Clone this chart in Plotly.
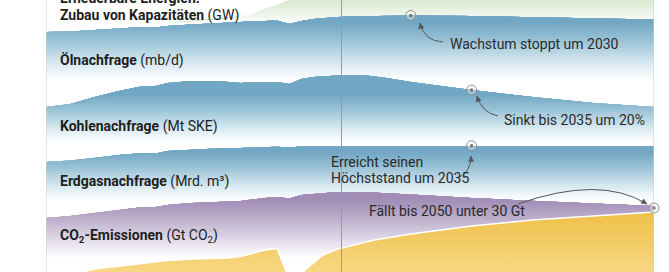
import math
import plotly.graph_objects as go

# ---------------- data (band top heights, chart units 0..272) ----------------
years = [2000, 2002, 2004, 2006, 2008, 2009, 2010, 2012, 2014, 2016, 2018, 2019,
         2020, 2021, 2022, 2023, 2024, 2026, 2028, 2030, 2035, 2040, 2045, 2050]

oil = [240, 240.5, 242, 243.5, 245, 244.5, 246, 247.5, 249, 250, 251, 251.5,
       248, 251, 253, 254, 255, 255.7, 256.2, 256.5, 256, 255, 253.5, 252.5]
coal = [165, 168, 175, 181, 186, 186, 189, 191, 191, 189, 190, 190,
        188, 193, 195, 196, 196.5, 197, 194, 190, 182, 175, 169, 165]
gas = [110, 111.5, 114, 117, 119, 118.5, 121, 122.5, 123.5, 124, 125, 125.2,
       124.5, 125.5, 125.5, 125.7, 125.8, 125.9, 126, 126, 126.2, 126, 126, 126]
co2 = [54, 56, 59, 62, 65, 65, 67, 69, 70, 71, 74, 75,
       73.5, 77, 78, 79, 80, 80, 79, 77.5, 74, 71, 68.5, 66]

green_years = [2000, 2005, 2010, 2013, 2015, 2016, 2017, 2018, 2019, 2020, 2021,
               2022, 2023, 2025, 2030, 2040, 2050]
green = [243, 245, 249, 252, 254, 255.5, 258, 263, 267, 272, 278,
         286, 297, 312, 342, 382, 412]

yellow_years = [2000, 2003, 2004, 2006, 2008, 2010, 2012, 2014, 2015, 2016, 2017,
                2018, 2019, 2020.2, 2021.3, 2022.8, 2024, 2025, 2027, 2030, 2035,
                2040, 2045, 2050]
yellow = [-4, 0, 3, 6, 9, 11.5, 13, 14, 14, 15.5, 19,
          22, 23.5, -13, 2, 17, 23, 26, 32, 38, 46,
          52, 56, 60]

labels = [
    ("<b>Zubau von Kapazitäten</b> (GW)", 15),
    ("<b>Ölnachfrage</b> (mb/d)", 60),
    ("<b>Kohlenachfrage</b> (Mt SKE)", 126),
    ("<b>Erdgasnachfrage</b> (Mrd. m³)", 181),
    ("<b>CO<sub>2</sub>-Emissionen</b> (Gt CO<sub>2</sub>)", 236),
]
top_label = ("<b>Erneuerbare Energien:</b>", -2)

NOW_YEAR = 2024.3

# ---------------- helpers ----------------
X0, PXY = 46, 12.16
H = 272


def px2d(px, py):
    return 2000 + (px - X0) / PXY, H - py


def ph(py):
    return H - py


def hex2rgb(h):
    h = h.lstrip("#")
    return [int(h[i:i + 2], 16) for i in (0, 2, 4)]


def scale_color(scale, f):
    f = max(0.0, min(1.0, f))
    for (a, ca), (b, cb) in zip(scale[:-1], scale[1:]):
        if a <= f <= b:
            t = 0 if b == a else (f - a) / (b - a)
            A, B = hex2rgb(ca), hex2rgb(cb)
            return "rgb(%d,%d,%d)" % tuple(round(A[i] + (B[i] - A[i]) * t) for i in range(3))
    return scale[-1][1]


fig = go.Figure()


def gradient_band(xs, ys, strong_px, white_px, scale, step=2.0):
    """Band filled from its top line down, fading (vertically) to white."""
    hs, hw = ph(strong_px), ph(white_px)
    n = int(math.ceil((hs - hw) / step))
    for k in range(n + 1):
        level = hw + k * step
        f = (level + step / 2 - hw) / (hs - hw)
        lower = [min(v, level) for v in ys]
        fig.add_trace(go.Scatter(
            x=list(xs) + list(xs)[::-1], y=list(ys) + lower[::-1],
            mode="lines", fill="toself", fillcolor=scale_color(scale, f),
            line=dict(width=0, color="rgba(0,0,0,0)"),
            hoverinfo="skip", showlegend=False))


BLUE = [[0, "#ffffff"], [0.3, "#d6e8f0"], [0.68, "#9ac2d6"], [1, "#71a7c4"]]
PURPLE = [[0, "#ffffff"], [0.3, "#e2dcea"], [0.68, "#bcaecb"], [1, "#a28db7"]]
GREEN = [[0, "#ffffff"], [0.35, "#e8f2e4"], [1, "#c6dfba"]]

gradient_band(green_years, green, -14, 24, GREEN)
gradient_band(years, oil, 22, 80, BLUE)
gradient_band(years, coal, 94, 142, BLUE)
gradient_band(years, gas, 152, 200, BLUE)
gradient_band(years, co2, 200, 258, PURPLE)

fig.add_trace(go.Scatter(
    x=yellow_years, y=yellow, mode="lines", fill="tozeroy",
    line=dict(width=1.5, color="white"),
    fillgradient=dict(type="vertical", colorscale=[[0, "#f8dc8e"], [1, "#efc04a"]]),
    hoverinfo="skip", showlegend=False))

# highlighted points
pts_x = [2030, 2035, 2035, 2050]
pts_y = [oil[years.index(2030)], coal[years.index(2035)],
         gas[years.index(2035)], co2[years.index(2050)] - 2]
fig.add_trace(go.Scatter(x=pts_x, y=pts_y, mode="markers", cliponaxis=False,
                         marker=dict(size=10, color="rgba(255,255,255,0.35)",
                                     line=dict(color="#8c8c8c", width=1)),
                         hoverinfo="skip", showlegend=False))
fig.add_trace(go.Scatter(x=pts_x, y=pts_y, mode="markers", cliponaxis=False,
                         marker=dict(size=3.5, color="#777777"),
                         hoverinfo="skip", showlegend=False))

# vertical lines
shapes = []
for xv, col in [(2000, "#d0d0d0"), (2050, "#cfcfcf"), (NOW_YEAR, "#9a9a9a")]:
    shapes.append(dict(type="line", xref="x", yref="paper", x0=xv, x1=xv, y0=0, y1=1,
                       line=dict(color=col, width=1), layer="above"))


def curve(p0, c, p1):
    a = px2d(*p0)
    b = px2d(*c)
    d = px2d(*p1)
    return f"M {a[0]},{a[1]} Q {b[0]},{b[1]} {d[0]},{d[1]}"


def head(c, p1, length=5.5, half=2.6):
    dx, dy = p1[0] - c[0], p1[1] - c[1]
    n = math.hypot(dx, dy)
    ux, uy = dx / n, dy / n
    bx, by = p1[0] - ux * length, p1[1] - uy * length
    l = px2d(bx - uy * half, by + ux * half)
    r = px2d(bx + uy * half, by - ux * half)
    t = px2d(*p1)
    return f"M {t[0]},{t[1]} L {l[0]},{l[1]} L {r[0]},{r[1]} Z"


arrows = [
    ((443, 42), (424, 41), (420, 23)),
    ((498, 116), (482, 113), (477, 96)),
    ((458, 178), (471, 172), (471, 156)),
    ((518, 204), (600, 175), (647, 204)),
]
for p0, c, p1 in arrows:
    shapes.append(dict(type="path", xref="x", yref="y", path=curve(p0, c, p1),
                       line=dict(color="#555555", width=1), layer="above"))
    shapes.append(dict(type="path", xref="x", yref="y", path=head(c, p1),
                       fillcolor="#555555", line=dict(color="#555555", width=0.5),
                       layer="above"))

annotations = []
FONT = "Roboto, 'Open Sans', sans-serif"
lx, _ = px2d(58, 0)
for txt, py in labels:
    annotations.append(dict(x=lx, y=ph(py), xref="x", yref="y", text=txt,
                            showarrow=False, xanchor="left", yanchor="middle",
                            font=dict(family=FONT, size=14, color="#1e1e1e")))
annotations.append(dict(x=lx, y=ph(top_label[1]) / H, xref="x", yref="paper",
                        text=top_label[0], showarrow=False, xanchor="left",
                        yanchor="middle",
                        font=dict(family=FONT, size=14, color="#1e1e1e")))

notes = [
    ("Wachstum stoppt um 2030", 448, 44),
    ("Sinkt bis 2035 um 20%", 502, 120),
    ("Erreicht seinen", 329, 162),
    ("Höchststand um 2035", 329, 178),
    ("Fällt bis 2050 unter 30 Gt", 367, 211),
]
for txt, px, py in notes:
    nx, ny = px2d(px, py)
    annotations.append(dict(x=nx, y=ny, xref="x", yref="y", text=txt,
                            showarrow=False, xanchor="left", yanchor="middle",
                            font=dict(family=FONT, size=14, color="#2a2a2a")))

fig.update_layout(
    width=669, height=272,
    margin=dict(l=46, r=15, t=0, b=0, pad=0),
    paper_bgcolor="white", plot_bgcolor="white",
    xaxis=dict(visible=False, range=[2000, 2050], fixedrange=True),
    yaxis=dict(visible=False, range=[0, 272], fixedrange=True),
    shapes=shapes, annotations=annotations, showlegend=False,
)

fig.write_html("out.html", config={"displayModeBar": False})
